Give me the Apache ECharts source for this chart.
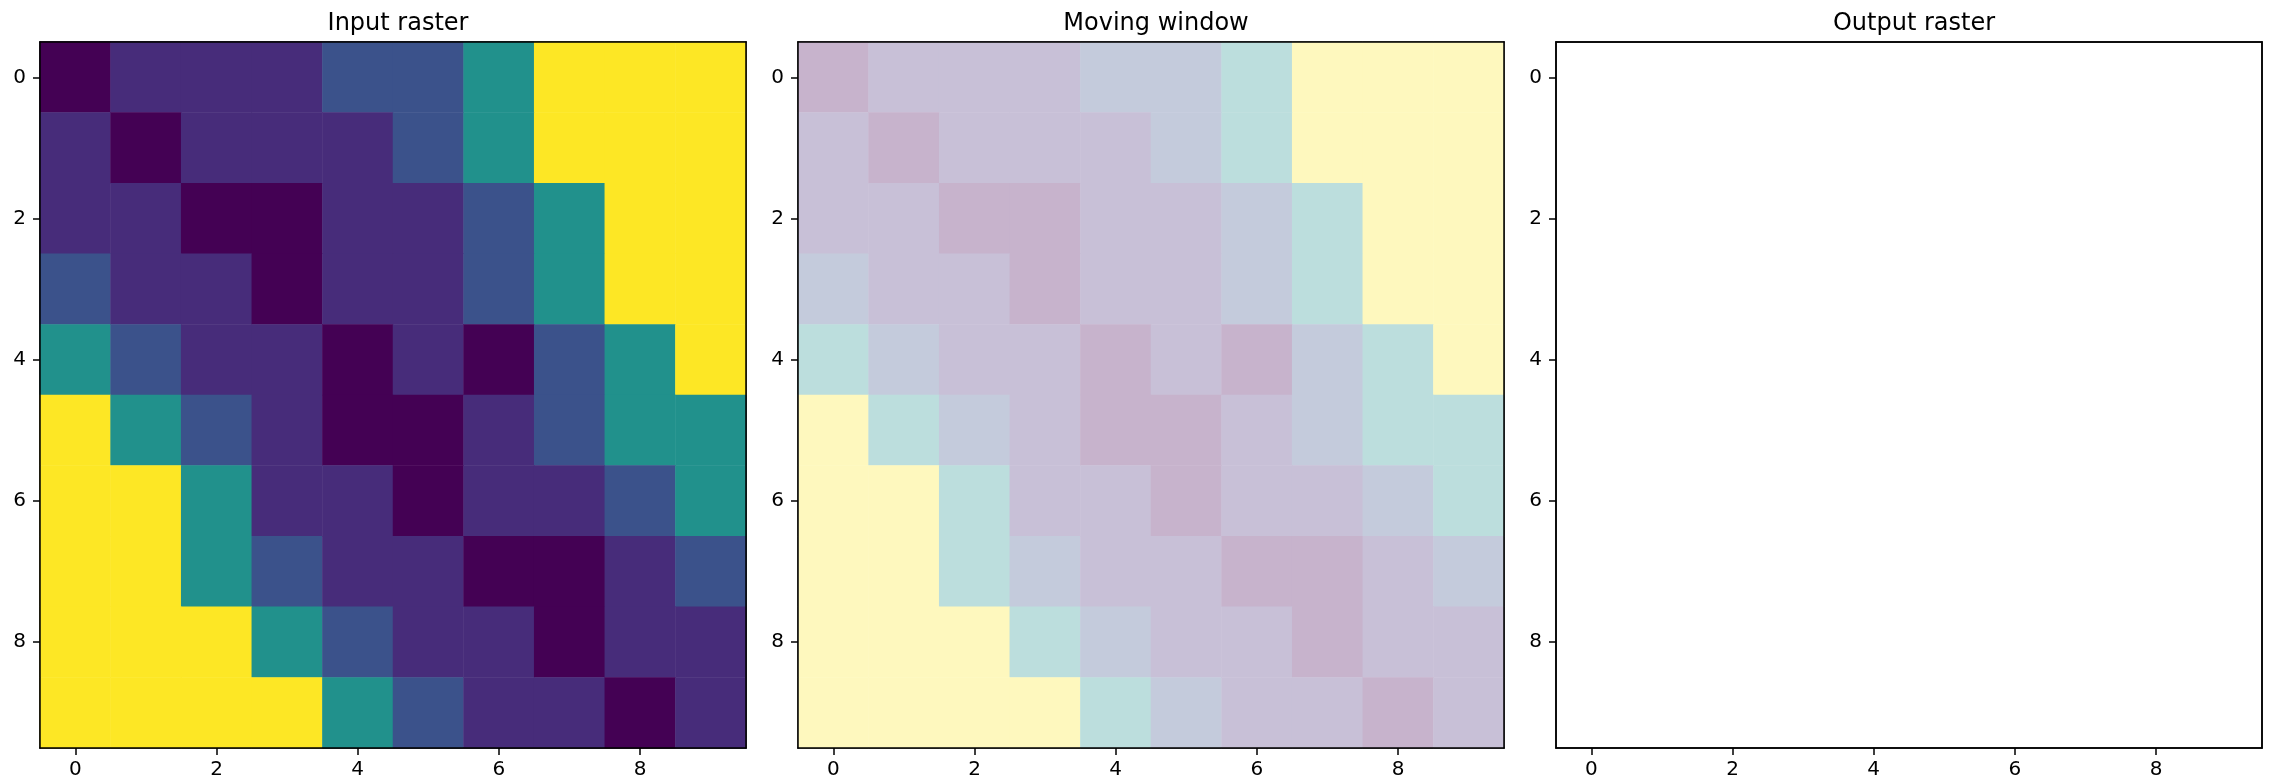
<!DOCTYPE html>
<html>
<head>
<meta charset="utf-8">
<script src="https://cdn.jsdelivr.net/npm/echarts@6/dist/echarts.min.js"></script>
<style>
  html, body { margin: 0; padding: 0; background: #fff; }
  #chart { width: 2270px; height: 784px; }
</style>
</head>
<body>
<div id="chart"></div>
<script>
// ---- data ----
const panelTitles = ['Input raster', 'Moving window', 'Output raster'];
const colCategories = ['0','1','2','3','4','5','6','7','8','9'];
const rowCategories = ['0','1','2','3','4','5','6','7','8','9'];
// raster values (row by row, top to bottom)
const rasterRows = [
  [0,1,1,1,2,2,4,8,8,8],
  [1,0,1,1,1,2,4,8,8,8],
  [1,1,0,0,1,1,2,4,8,8],
  [2,1,1,0,1,1,2,4,8,8],
  [4,2,1,1,0,1,0,2,4,8],
  [8,4,2,1,0,0,1,2,4,4],
  [8,8,4,1,1,0,1,1,2,4],
  [8,8,4,2,1,1,0,0,1,2],
  [8,8,8,4,2,1,1,0,1,1],
  [8,8,8,8,4,2,1,1,0,1]
];
const levelValues = [0, 1, 2, 4, 8];
const levelColors = ['#440154', '#472c7a', '#3b528b', '#21918c', '#fde725'];
const windowAlpha = 0.3;

// ---- build ----
// colour seen through the window: level colour blended over white
function blendOnWhite(hex, a) {
  const ch = [1,3,5].map(i => parseInt(hex.slice(i, i + 2), 16));
  const out = ch.map(c => Math.round(255 - a * (255 - c)));
  return 'rgb(' + out.join(',') + ')';
}
const cells = [];
rasterRows.forEach((row, r) => row.forEach((v, c) => cells.push([c, r, v])));

const FONT = 'DejaVu Sans';
const gridLefts = [40, 798, 1556];
const gridSize = 706;
const gridTop = 42;

const grids = gridLefts.map(l => ({
  left: l, top: gridTop, width: gridSize, height: gridSize,
  show: true, borderColor: '#000', borderWidth: 1.5, backgroundColor: '#fff'
}));
const axisCommon = {
  z: 10,
  axisLine: { show: true, lineStyle: { color: '#000', width: 1.5 } },
  axisTick: { show: true, alignWithLabel: true, interval: 1, length: 7, lineStyle: { color: '#000', width: 1.5 } },
  splitLine: { show: false },
  axisLabel: { interval: 1, color: '#000', fontFamily: FONT, fontSize: 20 }
};
const frameAxis = {
  z: 10,
  axisLine: { show: true, onZero: false, lineStyle: { color: '#000', width: 1.5 } },
  axisTick: { show: false }, axisLabel: { show: false }, splitLine: { show: false }
};
const xAxes = [];
const yAxes = [];
gridLefts.forEach((_, i) => {
  xAxes.push(Object.assign({}, axisCommon, {
    type: 'category', gridIndex: i, data: colCategories, position: 'bottom',
    axisLabel: Object.assign({}, axisCommon.axisLabel, { margin: 12 })
  }));
  yAxes.push(Object.assign({}, axisCommon, {
    type: 'category', gridIndex: i, data: rowCategories, inverse: true, position: 'left',
    axisLabel: Object.assign({}, axisCommon.axisLabel, { margin: 14 })
  }));
});
gridLefts.forEach((_, i) => {
  xAxes.push(Object.assign({}, frameAxis, { type: 'category', gridIndex: i, data: colCategories, position: 'top' }));
  yAxes.push(Object.assign({}, frameAxis, { type: 'category', gridIndex: i, data: rowCategories, inverse: true, position: 'right' }));
});
const titles = panelTitles.map((t, i) => ({
  text: t, left: gridLefts[i] + gridSize / 2, top: 7, textAlign: 'center',
  textStyle: { fontFamily: FONT, fontSize: 24, fontWeight: 'normal', color: '#000' }
}));

const option = {
  backgroundColor: '#fff',
  animation: false,
  title: titles,
  grid: grids,
  xAxis: xAxes,
  yAxis: yAxes,
  visualMap: [
    { type: 'piecewise', show: false, seriesIndex: 0, dimension: 2,
      pieces: levelValues.map((v, k) => ({ value: v, color: levelColors[k] })) },
    { type: 'piecewise', show: false, seriesIndex: 1, dimension: 2,
      pieces: levelValues.map((v, k) => ({ value: v, color: blendOnWhite(levelColors[k], windowAlpha) })) }
  ],
  series: [
    { type: 'heatmap', xAxisIndex: 0, yAxisIndex: 0, data: cells, itemStyle: { borderWidth: 0 }, emphasis: { disabled: true } },
    { type: 'heatmap', xAxisIndex: 1, yAxisIndex: 1, data: cells, itemStyle: { borderWidth: 0 }, emphasis: { disabled: true } },
    { type: 'scatter', xAxisIndex: 2, yAxisIndex: 2, data: [] }
  ]
};
const chart = echarts.init(document.getElementById('chart'), null, { renderer: 'canvas' });
chart.setOption(option);
</script>
</body>
</html>
